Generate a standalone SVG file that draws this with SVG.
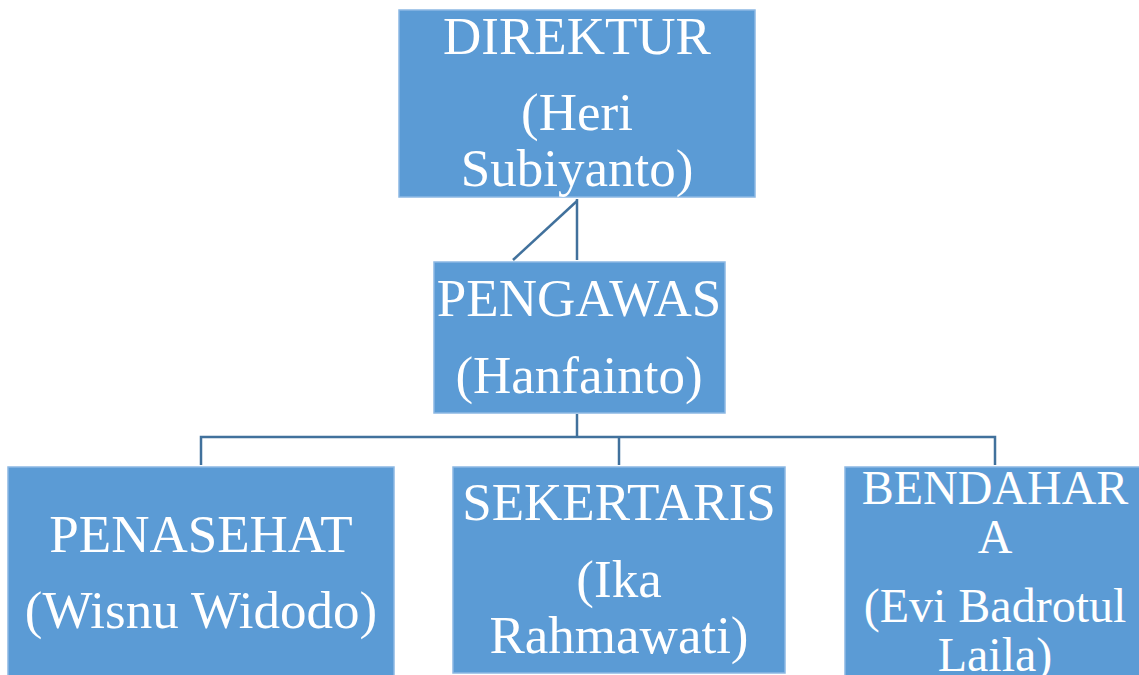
<svg xmlns="http://www.w3.org/2000/svg" width="1139" height="675" viewBox="0 0 1139 675">
<style>
.box{fill:#5b9bd5;stroke:#8cb8e3;stroke-width:1.5}
.t{font-family:"Liberation Serif","Times New Roman",serif;font-size:53px;fill:#ffffff;text-anchor:middle}
.s{font-size:48px}
.c{fill:none;stroke:#41719c;stroke-width:2.5}
</style>
<rect width="1139" height="675" fill="#ffffff"/>
<g id="connectors">
<line class="c" x1="577" y1="199" x2="577" y2="260"/>
<line class="c" x1="577" y1="201" x2="513" y2="260"/>
<polyline class="c" points="577,414 577,437"/>
<polyline class="c" points="201,465 201,437 995,437 995,465"/>
<line class="c" x1="619" y1="437" x2="619" y2="465"/>
</g>
<g id="direktur">
<rect class="box" x="399" y="10" width="356" height="187"/>
<text class="t" x="577" y="54">DIREKTUR</text>
<text class="t" x="577" y="130">(Heri</text>
<text class="t" x="577" y="186">Subiyanto)</text>
</g>
<g id="pengawas">
<rect class="box" x="434" y="262" width="291" height="151"/>
<text class="t" x="579" y="316">PENGAWAS</text>
<text class="t" x="579" y="393">(Hanfainto)</text>
</g>
<g id="penasehat">
<rect class="box" x="8" y="467" width="386" height="212"/>
<text class="t" x="201" y="552">PENASEHAT</text>
<text class="t" x="201" y="628">(Wisnu Widodo)</text>
</g>
<g id="sekertaris">
<rect class="box" x="453" y="467" width="332" height="206"/>
<text class="t" x="619" y="520">SEKERTARIS</text>
<text class="t" x="619" y="597">(Ika</text>
<text class="t" x="619" y="653">Rahmawati)</text>
</g>
<g id="bendahara">
<rect class="box" x="845" y="467" width="300" height="212"/>
<text class="t s" x="995" y="504">BENDAHAR</text>
<text class="t s" x="995" y="553">A</text>
<text class="t s" x="995" y="622">(Evi Badrotul</text>
<text class="t s" x="995" y="671">Laila)</text>
</g>
</svg>
